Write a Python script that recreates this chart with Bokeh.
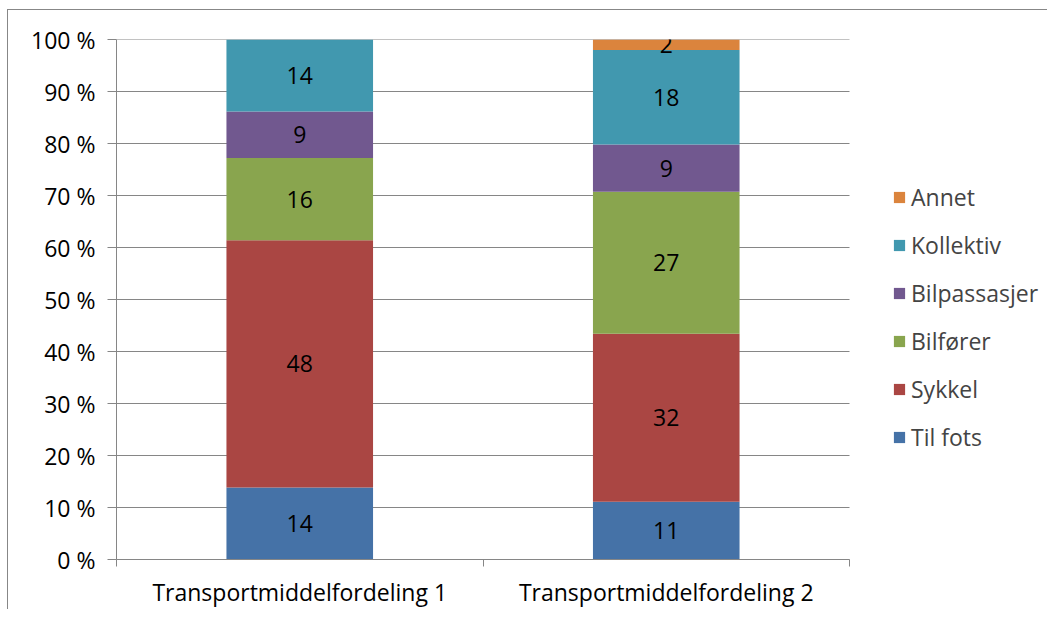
from bokeh.plotting import figure
from bokeh.models import (ColumnDataSource, FixedTicker, Legend, LegendItem,
                          NumeralTickFormatter, Range1d, LabelSet)
from bokeh.core.properties import value
from bokeh.embed import file_html
from bokeh.resources import INLINE

# ---- data ----
categories = ["Transportmiddelfordeling 1", "Transportmiddelfordeling 2"]
series = ["Til fots", "Sykkel", "Bilfører", "Bilpassasjer", "Kollektiv", "Annet"]
til_fots = [14, 11]
sykkel = [48, 32]
bilforer = [16, 27]
bilpassasjer = [9, 9]
kollektiv = [14, 18]
annet = [0, 2]
colors = ["#4572A7", "#AA4643", "#89A54E", "#71588F", "#4198AF", "#DB843D"]
y_ticks = [0, 10, 20, 30, 40, 50, 60, 70, 80, 90, 100]

FONT = "Open Sans"
FS = "23px"
raw = [til_fots, sykkel, bilforer, bilpassasjer, kollektiv, annet]
n_cat = len(categories)
totals = [sum(col[i] for col in raw) for i in range(n_cat)]
xs = [i + 0.5 for i in range(n_cat)]

data = {"x": xs}
for name, vals in zip(series, raw):
    data[name] = [v / t * 100 for v, t in zip(vals, totals)]
src = ColumnDataSource(data)

# frame spans the legend area too; categories occupy the left 733 px
W, H = 1040, 600
LEFT, TOP, BOTTOM = 108, 29, 49
plot_w = 733
frame_w = W - LEFT
x_end = n_cat * frame_w / plot_w

p = figure(width=W, height=H, output_backend="svg", toolbar_location=None,
           x_range=Range1d(0, x_end), y_range=Range1d(0, 100))
p.min_border_left = LEFT
p.min_border_right = 0
p.min_border_top = TOP
p.min_border_bottom = BOTTOM
p.outline_line_color = None
p.background_fill_color = "white"
p.border_fill_color = "white"
p.styles = {"border-left": "1px solid #878787", "border-top": "1px solid #878787",
            "margin-left": "7px", "margin-top": "9px"}

grid_c = "#868686"
p.xgrid.visible = False
p.ygrid.visible = False
p.segment(x0=0, x1=n_cat, y0=y_ticks, y1=y_ticks, line_color=grid_c, line_width=1)

renderers = p.vbar_stack(series, x="x", width=0.4, source=src, color=colors,
                         line_color=None)

# labels
lx, ly, lt = [], [], []
for i in range(n_cat):
    base = 0.0
    for name, vals in zip(series, raw):
        h = data[name][i]
        if vals[i] > 0:
            lx.append(xs[i]); ly.append(base + h / 2); lt.append(str(vals[i]))
        base += h
lsrc = ColumnDataSource(dict(x=lx, y=ly, t=lt))
p.add_layout(LabelSet(x="x", y="y", text="t", source=lsrc, text_align="center",
                      text_baseline="middle", text_font=value(FONT),
                      text_font_size=FS, text_color="black"))

# axes
ya = p.yaxis[0]
ya.ticker = FixedTicker(ticks=y_ticks)
ya.formatter = NumeralTickFormatter(format="0")
ya.major_label_overrides = {t: f"{t} %" for t in y_ticks}
ya.axis_line_color = grid_c
ya.major_tick_line_color = grid_c
ya.major_tick_out = 9
ya.major_tick_in = 0
ya.minor_tick_line_color = None
ya.major_label_text_font = FONT
ya.major_label_text_font_size = FS
ya.major_label_text_color = "black"
ya.major_label_standoff = 12

xa = p.xaxis[0]
xa.bounds = (0, n_cat)
xa.ticker = FixedTicker(ticks=xs, minor_ticks=list(range(n_cat + 1)))
xa.major_label_overrides = {x: c for x, c in zip(xs, categories)}
xa.axis_line_color = grid_c
xa.major_tick_line_color = None
xa.major_tick_out = 0
xa.major_tick_in = 0
xa.minor_tick_line_color = grid_c
xa.minor_tick_out = 7
xa.minor_tick_in = 0
xa.major_label_text_font = FONT
xa.major_label_text_font_size = FS
xa.major_label_text_color = "black"
xa.major_label_standoff = 9

items = [LegendItem(label=n, renderers=[r]) for n, r in zip(series, renderers)][::-1]
legend = Legend(items=items, location=(776, 106), padding=0, margin=0,
                spacing=16, glyph_width=14, glyph_height=14, label_standoff=5,
                label_text_font=FONT, label_text_font_size=FS,
                border_line_color=None, background_fill_alpha=0)
p.add_layout(legend, "center")

open("out.html", "w").write(file_html(p, INLINE))
